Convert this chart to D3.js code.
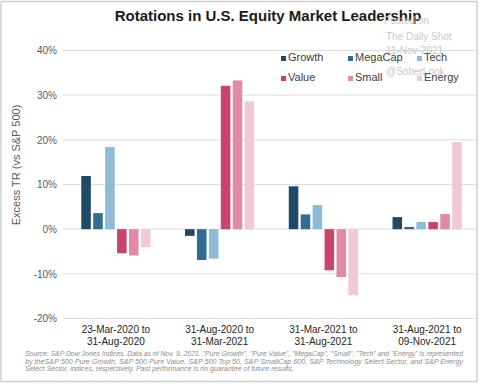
<!DOCTYPE html>
<html>
<head>
<meta charset="utf-8">
<script src="https://cdn.jsdelivr.net/npm/d3@7"></script>
<style>
  body { margin: 0; background: #fff; }
  svg { font-family: Arial, "Liberation Sans", sans-serif; }
</style>
</head>
<body>
<div id="chart"></div>
<script>
const periods = [["23-Mar-2020 to", "31-Aug-2020"], ["31-Aug-2020 to", "31-Mar-2021"],
                 ["31-Mar-2021 to", "31-Aug-2021"], ["31-Aug-2021 to", "09-Nov-2021"]];
const seriesNames = ["Growth", "MegaCap", "Tech", "Value", "Small", "Energy"];
const seriesColors = ["#1e4a68", "#2f6d93", "#8dbcd8", "#c9446d", "#df8aa6", "#f2c8d5"];
const growth  = [11.9, -1.5, 9.6, 2.7];
const megacap = [3.6, -6.9, 3.3, 0.5];
const tech    = [18.4, -6.6, 5.4, 1.6];
const value   = [-5.4, 32.1, -9.2, 1.6];
const small   = [-5.9, 33.3, -10.7, 3.4];
const energy  = [-4.0, 28.6, -14.8, 19.5];
const yTicks = [-20, -10, 0, 10, 20, 30, 40];
const footnote = [
  "Source: S&P Dow Jones Indices. Data as of Nov. 9, 2021. \"Pure Growth\", \"Pure Value\", \"MegaCap\", \"Small\", \"Tech\" and \"Energy\" is represented",
  "by theS&P 500 Pure Growth, S&P 500 Pure Value, S&P 500 Top 50, S&P SmallCap 600, S&P Technology Select Sector, and S&P Energy",
  "Select Sector, indices, respectively.  Past performance is no guarantee of future results."
];
const watermark = ["Posted on", "The Daily Shot", "11-Nov-2021", "@SoberLook"];

const allSeries = [growth, megacap, tech, value, small, energy];

const width = 480, height = 384;
const svg = d3.select("#chart").append("svg")
  .attr("width", width)
  .attr("height", height);

// frame
svg.append("rect")
  .attr("x", 1).attr("y", 1.5)
  .attr("width", 476).attr("height", 380)
  .attr("fill", "none").attr("stroke", "#cfcfcf").attr("stroke-width", 1.5);

const x0 = d3.scaleBand().domain(d3.range(periods.length))
  .range([64, 479]).paddingInner(0.31).paddingOuter(0.155);
const x1 = d3.scaleBand().domain(d3.range(seriesNames.length))
  .range([0, x0.bandwidth()]).paddingInner(0.2).paddingOuter(0.1);
const y = d3.scaleLinear().domain([-20, 40]).range([318.5, 50.5]);

// gridlines
svg.append("g").selectAll("line")
  .data(yTicks).enter().append("line")
  .attr("x1", 63).attr("x2", 477)
  .attr("y1", d => y(d)).attr("y2", d => y(d))
  .attr("stroke", "#dedede").attr("stroke-width", 1);

// y axis labels
const yAxis = svg.append("g")
  .attr("transform", "translate(57,0)")
  .call(d3.axisLeft(y).tickValues(yTicks).tickSize(0).tickPadding(0).tickFormat(d => d + "%"));
yAxis.select(".domain").remove();
yAxis.selectAll("text").attr("fill", "#595959").attr("font-size", 10);

svg.append("text")
  .attr("transform", "translate(20,165) rotate(-90)")
  .attr("text-anchor", "middle")
  .attr("font-size", 11).attr("fill", "#595959")
  .text("Excess TR (vs S&P 500)");

// bars
allSeries.forEach((vals, s) => {
  svg.append("g").selectAll("rect")
    .data(vals).enter().append("rect")
    .attr("x", (d, i) => x0(i) + x1(s))
    .attr("width", x1.bandwidth())
    .attr("y", d => y(Math.max(0, d)))
    .attr("height", d => Math.abs(y(d) - y(0)))
    .attr("fill", seriesColors[s]);
});

// x labels
periods.forEach((lines, i) => {
  const t = svg.append("text")
    .attr("x", x0(i) + x0.bandwidth() / 2)
    .attr("y", 333)
    .attr("text-anchor", "middle")
    .attr("font-size", 10).attr("fill", "#262626");
  lines.forEach((l, k) => t.append("tspan")
    .attr("x", x0(i) + x0.bandwidth() / 2)
    .attr("dy", k === 0 ? 0 : 12).text(l));
});

// title
svg.append("text")
  .attr("x", 268).attr("y", 21)
  .attr("text-anchor", "middle")
  .attr("font-size", 15).attr("font-weight", "bold").attr("fill", "#1a1a1a")
  .text("Rotations in U.S. Equity Market Leadership");

// watermark
svg.append("g").selectAll("text")
  .data(watermark).enter().append("text")
  .attr("x", (d, i) => i === 0 ? 384 : 386)
  .attr("y", (d, i) => [24, 40, 54, 75][i])
  .attr("font-size", 10).attr("fill", "#c8c8c8")
  .text(d => d);

// legend
const legend = svg.append("g").selectAll("g")
  .data(seriesNames).enter().append("g")
  .attr("transform", (d, i) => `translate(${[281, 348, 417][i % 3]},${i < 3 ? 61 : 81})`);
legend.append("rect")
  .attr("x", 0).attr("y", -5).attr("width", 5).attr("height", 5)
  .attr("fill", (d, i) => seriesColors[i]);
legend.append("text")
  .attr("x", 7).attr("y", 0)
  .attr("font-size", 11).attr("fill", "#404040")
  .text(d => d);

// footnote
svg.append("g").selectAll("text")
  .data(footnote).enter().append("text")
  .attr("x", 25).attr("y", (d, i) => 356 + i * 7.5)
  .attr("font-size", 7).attr("font-style", "italic").attr("fill", "#8c8c8c")
  .attr("textLength", (d, i) => i === 2 ? null : [438, 438][i])
  .attr("lengthAdjust", "spacingAndGlyphs")
  .text(d => d);
</script>
</body>
</html>
